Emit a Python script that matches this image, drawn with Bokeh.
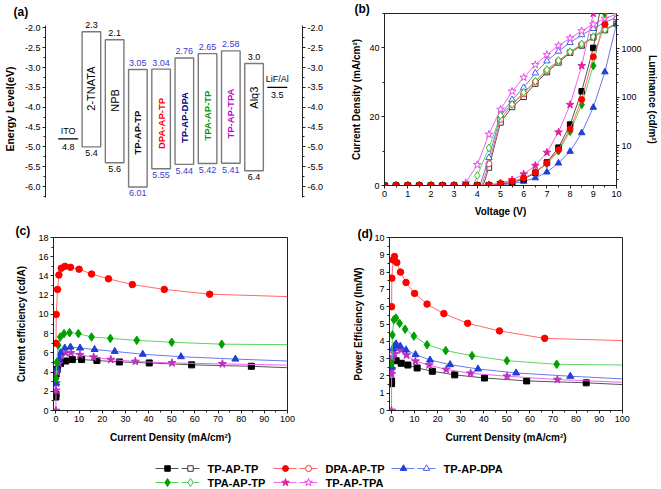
import math
from bokeh.plotting import figure
from bokeh.models import (Range1d, LinearAxis, LogAxis, LogScale, LogTicker,
                          SingleIntervalTicker, NumeralTickFormatter,
                          PrintfTickFormatter, Title)
from bokeh.layouts import column, row
from bokeh.embed import file_html
from bokeh.resources import INLINE
from bokeh.core.properties import value

FONT = "Liberation Sans"

# ---------------- (a) energy levels -----------------
layer_names = ["2-TNATA", "NPB", "TP-AP-TP", "DPA-AP-TP", "TP-AP-DPA",
               "TPA-AP-TP", "TP-AP-TPA", "Alq3"]
layer_lumo = [-2.1, -2.3, -3.05, -3.04, -2.76, -2.65, -2.58, -2.9]
layer_homo = [-5.0, -5.4, -6.01, -5.55, -5.44, -5.42, -5.41, -5.6]
lumo_text = ["2.3", "2.1", "3.05", "3.04", "2.76", "2.65", "2.58", "3.0"]
homo_text = ["5.4", "5.6", "6.01", "5.55", "5.44", "5.42", "5.41", "6.4"]
electrode_names = ["ITO", "LiF/Al"]
electrode_level = [-4.8, -3.5]
electrode_text = ["4.8", "3.5"]

# ---------------- (b) J-V-L -----------------
voltage = [0.0, 0.5, 1.0, 1.5, 2.0, 2.5, 3.0, 3.5, 4.0, 4.5, 5.0,
           5.5, 6.0, 6.5, 7.0, 7.5, 8.0, 8.5, 9.0, 9.5, 10.0]
j_tp_ap_tp = [0, 0, 0, 0, 0, 0, 0, 0, 0, 0.1, 0.4, 0.9, 1.8, 3.7, 6.7,
              11.0, 17.7, 27.4, 40.0, 58.6, 84.4]
j_dpa_ap_tp = [0, 0, 0, 0, 0, 0, 0, 0, 0, 0.1, 0.6, 1.2, 2.2, 3.8, 6.5,
               10.4, 16.4, 25.0, 37.4, 46.8, 66.4]
j_tp_ap_dpa = [0, 0, 0, 0, 0, 0, 0, 0, 0, 0.0, 0.2, 0.5, 1.2, 2.2, 3.9,
               6.5, 9.9, 15.3, 22.7, 33.0, 47.0]
j_tpa_ap_tp = [0, 0, 0, 0, 0, 0, 0, 0, 0, 0.1, 0.4, 1.0, 2.0, 3.8, 6.3,
               10.0, 15.7, 23.5, 34.8, 50.0, 71.6]
j_tp_ap_tpa = [0, 0, 0, 0, 0, 0, 0, 0, 0, 0.2, 0.7, 1.6, 3.3, 5.8, 9.6,
               15.5, 23.5, 34.8, 50.0, 71.9, 100.0]

lum_voltage = [3.5, 4.0, 4.5, 5.0, 5.5, 6.0, 6.5, 7.0, 7.5, 8.0, 8.5,
               9.0, 9.5, 10.0]
lum_tp_ap_tp = [0.15, 0.63, 3.5, 30, 63, 102, 191, 331, 525, 832, 1175,
                1738, 2455, 3311]
lum_dpa_ap_tp = [0.2, 0.8, 4.2, 35, 71, 117, 209, 355, 562, 851, 1230,
                 1778, 2570, 3388]
lum_tp_ap_dpa = [0.2, 1.0, 5.6, 42, 89, 158, 316, 562, 891, 1349, 1950,
                 2630, 3548, 4467]
lum_tpa_ap_tp = [0.6, 2.4, 8.9, 42, 71, 126, 214, 372, 575, 871, 1259,
                 1778, 2512, 3162]
lum_tp_ap_tpa = [1.7, 4.0, 17, 56, 132, 257, 468, 759, 1175, 1660, 2344,
                 3236, 4266, 5248]

# ---------------- (c)/(d) efficiencies -----------------
cd_tp_ap_tp = [0.02, 0.05, 0.15, 0.7, 2.0, 4.2, 7.1, 11.1, 17.7, 27.4,
               40.3, 58.6, 84.4]
ce_tp_ap_tp = [1.4, 1.7, 3.8, 4.3, 4.9, 5.15, 5.3, 5.3, 5.2, 5.05, 4.95,
               4.75, 4.6]
pe_tp_ap_tp = [1.55, 1.7, 2.9, 2.98, 2.88, 2.73, 2.63, 2.46, 2.27, 2.06,
               1.88, 1.71, 1.6]

cd_dpa_ap_tp = [0.05, 0.15, 0.7, 1.3, 2.3, 3.9, 6.3, 10.0, 15.4, 22.7,
                33.0, 46.8, 66.4]
ce_dpa_ap_tp = [7.0, 10.0, 12.6, 14.1, 14.8, 15.0, 14.9, 14.7, 14.2, 13.7,
                13.1, 12.6, 12.1]
pe_dpa_ap_tp = [6.0, 7.65, 8.7, 8.9, 8.55, 8.0, 7.4, 6.77, 6.15, 5.6,
                5.04, 4.6, 4.17]

cd_tp_ap_dpa = [0.15, 0.6, 1.3, 2.0, 3.8, 6.3, 10.4, 16.7, 25.4, 37.5,
                54.0, 77.5]
ce_tp_ap_dpa = [2.85, 4.4, 5.4, 6.0, 6.5, 6.6, 6.5, 6.35, 6.15, 5.85, 5.6,
                5.35]
pe_tp_ap_dpa = [2.5, 3.55, 3.75, 3.85, 3.72, 3.5, 3.23, 2.92, 2.65, 2.4,
                2.17, 1.98]

cd_tpa_ap_tp = [0.1, 0.4, 1.0, 1.9, 3.5, 5.9, 9.7, 15.4, 23.5, 34.9, 50.0,
                71.6]
ce_tpa_ap_tp = [3.3, 5.0, 6.8, 7.65, 8.0, 8.1, 8.0, 7.65, 7.5, 7.3, 7.1,
                6.9]
pe_tpa_ap_tp = [2.7, 4.37, 5.25, 5.35, 5.04, 4.7, 4.3, 3.8, 3.46, 3.17,
                2.88, 2.67]

cd_tp_ap_tpa = [0.0, 0.05, 0.15, 0.43, 1.3, 2.3, 4.2, 6.5, 10.4, 16.3,
                23.7, 34.3, 50.1, 71.9]
ce_tp_ap_tpa = [0.0, 2.1, 2.85, 4.0, 4.9, 5.7, 6.0, 6.0, 5.8, 5.55, 5.3,
                5.1, 4.95, 4.85]
pe_tp_ap_tpa = [0.0, 2.1, 2.4, 3.04, 3.27, 3.6, 3.5, 3.2, 2.85, 2.63, 2.37,
                2.15, 1.98, 1.79]

# value of each fitted curve at 100 mA/cm2
ce_at_100 = [4.45, 11.85, 5.15, 6.85, 4.72]
pe_at_100 = [1.5, 4.04, 1.83, 2.63, 1.63]

series_names = ["TP-AP-TP", "DPA-AP-TP", "TP-AP-DPA", "TPA-AP-TP",
                "TP-AP-TPA"]

# ---------------- styles -----------------
markers = ["square", "circle", "triangle", "diamond", "star"]
msizes = [6, 6.5, 7, 8.5, 8.5]
mcolors = ["#000000", "#ff0000", "#1f3fd8", "#00a000", "#e0209f"]
ocolors = ["#333333", "#ff3030", "#4a5ee8", "#33c033", "#ee44ee"]
lcolors = ["#555555", "#ff6a6a", "#6b7be8", "#5fd35f", "#ee66ee"]
ccolors = ["#000000", "#ff0000", "#1f3fd8", "#00a000", "#c030c0"]
AX = "#222222"


def style_axis(ax, label_standoff):
    ax.axis_line_color = AX
    ax.major_tick_line_color = AX
    ax.minor_tick_line_color = AX
    ax.major_tick_out = 3
    ax.major_tick_in = 0
    ax.minor_tick_out = 2
    ax.minor_tick_in = 0
    ax.major_label_standoff = 2
    ax.major_label_text_font = FONT
    ax.major_label_text_font_size = "9px"
    ax.major_label_text_color = "#000000"
    ax.axis_label_text_font = FONT
    ax.axis_label_text_font_size = "10px"
    ax.axis_label_text_font_style = "bold"
    ax.axis_label_text_color = "#000000"
    ax.axis_label_standoff = label_standoff


def base_fig(w, h, xr, yr, bl, br, bt, bb, xloc="below", yloc="left"):
    p = figure(width=w, height=h, x_range=xr, y_range=yr,
               output_backend="svg", toolbar_location=None, title=None,
               x_axis_location=xloc, y_axis_location=yloc,
               min_border_left=bl, min_border_right=br,
               min_border_top=bt, min_border_bottom=bb)
    p.xgrid.grid_line_color = None
    p.ygrid.grid_line_color = None
    p.background_fill_color = "white"
    p.border_fill_color = "white"
    return p


def panel_title(p, text, offset, standoff, size="12px"):
    p.add_layout(Title(text=text, align="left", offset=offset,
                       standoff=standoff, text_font=FONT,
                       text_font_size=size, text_font_style="bold",
                       text_color="#000000"), "above")


# ================= panel (a) =================
pa = base_fig(330, 220, Range1d(-0.975, 10.085), Range1d(-6.30, -1.79),
              41, 28, 19, 22, xloc=None, yloc="left")
pa.outline_line_color = None
pa.yaxis.ticker = SingleIntervalTicker(interval=0.5, num_minor_ticks=2)
pa.yaxis.formatter = NumeralTickFormatter(format="0.0")
pa.yaxis.axis_label = "Energy Level(eV)"
pa.yaxis.bounds = (-6.27, -1.94)
style_axis(pa.yaxis[0], 6)
pa.yaxis.axis_label_text_font_size = "10.5px"
ra = LinearAxis(ticker=SingleIntervalTicker(interval=0.5, num_minor_ticks=2),
                formatter=NumeralTickFormatter(format="0.0"),
                bounds=(-6.27, -1.94))
style_axis(ra, 2)
pa.add_layout(ra, "right")
panel_title(pa, "(a)", -32, 2)

slots = [i + 1 for i in range(len(layer_names))]
e_slots = [0, len(layer_names) + 1]
bw = 0.4
pa.quad(left=[s - bw for s in slots], right=[s + bw for s in slots],
        top=layer_lumo, bottom=layer_homo, fill_color="white",
        line_color="#7a7a7a", line_width=1.4)
pa.segment(x0=[s - 0.43 for s in e_slots], x1=[s + 0.43 for s in e_slots],
           y0=electrode_level, y1=electrode_level, line_color="#000000",
           line_width=1.2)

num_colors = ["#000000", "#000000", "#3b3bd0", "#3b3bd0", "#3b3bd0",
              "#3b3bd0", "#3b3bd0", "#000000"]
pa.text(x=slots, y=layer_lumo, text=lumo_text, y_offset=-6.5,
        text_color=num_colors, text_font=value(FONT), text_font_size="9px",
        text_align="center", text_baseline="middle")
pa.text(x=slots, y=layer_homo, text=homo_text, y_offset=6.5,
        text_color=num_colors, text_font=value(FONT), text_font_size="9px",
        text_align="center", text_baseline="middle")
pa.text(x=e_slots, y=electrode_level, text=electrode_names, y_offset=-8,
        text_color="#000000", text_font=value(FONT), text_font_size="9px",
        text_align="center", text_baseline="middle")
pa.text(x=e_slots, y=electrode_level, text=electrode_text, y_offset=8,
        text_color="#000000", text_font=value(FONT), text_font_size="9px",
        text_align="center", text_baseline="middle")

name_y = [-3.53, -3.83, -4.64, -4.41, -4.26, -4.21, -4.16, -3.76]
name_colors = ["#000000", "#000000", "#000000", "#ff0000", "#000080",
               "#009900", "#cc00cc", "#000000"]
name_bold = [False, False, True, True, True, True, True, False]
for bold in (False, True):
    idx = [i for i in range(len(layer_names)) if name_bold[i] == bold]
    pa.text(x=[slots[i] for i in idx], y=[name_y[i] for i in idx],
            text=[layer_names[i] for i in idx],
            text_color=[name_colors[i] for i in idx], angle=math.pi / 2,
            text_font=value(FONT),
            text_font_size="9.5px" if bold else "11px",
            text_font_style="bold" if bold else "normal",
            text_align="center", text_baseline="middle")

# ================= panel (b) =================
pb = base_fig(330, 220, Range1d(0, 10), Range1d(0, 50), 54, 42, 13, 35)
pb.outline_line_color = AX
pb.outline_line_width = 1
pb.xaxis.ticker = SingleIntervalTicker(interval=1, num_minor_ticks=2)
pb.yaxis.ticker = SingleIntervalTicker(interval=20, num_minor_ticks=2)
pb.xaxis.axis_label = "Voltage (V)"
pb.yaxis.axis_label = "Current Density (mA/cm²)"
style_axis(pb.xaxis[0], 6)
style_axis(pb.yaxis[0], 4)
pb.extra_y_ranges = {"lum": Range1d(1.49, 5400)}
pb.extra_y_scales = {"lum": LogScale()}
lax = LogAxis(y_range_name="lum", ticker=LogTicker(num_minor_ticks=10),
              formatter=PrintfTickFormatter(format="%d"),
              axis_label="Luminance (cd/m²)")
style_axis(lax, 2)
pb.add_layout(lax, "right")
panel_title(pb, "(b)", -30, -4)

j_series = [j_tp_ap_tp, j_dpa_ap_tp, j_tp_ap_dpa, j_tpa_ap_tp, j_tp_ap_tpa]
l_series = [lum_tp_ap_tp, lum_dpa_ap_tp, lum_tp_ap_dpa, lum_tpa_ap_tp,
            lum_tp_ap_tpa]
for k in range(5):
    pb.line(lum_voltage, l_series[k], y_range_name="lum",
            line_color=lcolors[k], line_width=1)
    pb.scatter(lum_voltage, l_series[k], y_range_name="lum",
               marker=markers[k], size=msizes[k] - 0.5, fill_color="white",
               line_color=ocolors[k], line_width=1)
for k in [2, 4, 3, 0, 1]:
    pb.line(voltage, j_series[k], line_color=lcolors[k], line_width=1)
    pb.scatter(voltage, j_series[k], marker=markers[k], size=msizes[k] - 0.5,
               fill_color=mcolors[k], line_color=mcolors[k])

# ================= panels (c), (d) =================
cd_series = [cd_tp_ap_tp, cd_dpa_ap_tp, cd_tp_ap_dpa, cd_tpa_ap_tp,
             cd_tp_ap_tpa]
ce_series = [ce_tp_ap_tp, ce_dpa_ap_tp, ce_tp_ap_dpa, ce_tpa_ap_tp,
             ce_tp_ap_tpa]
pe_series = [pe_tp_ap_tp, pe_dpa_ap_tp, pe_tp_ap_dpa, pe_tpa_ap_tp,
             pe_tp_ap_tpa]


def eff_panel(w, xr, yr, bl, br, ylabel, yint, ys, yends, ystand):
    p = base_fig(w, 232, xr, yr, bl, br, 17, 42)
    p.outline_line_color = AX
    p.outline_line_width = 1
    p.xaxis.ticker = SingleIntervalTicker(interval=10, num_minor_ticks=2)
    p.yaxis.ticker = SingleIntervalTicker(interval=yint, num_minor_ticks=2)
    p.xaxis.axis_label = "Current Density (mA/cm²)"
    p.yaxis.axis_label = ylabel
    style_axis(p.xaxis[0], 7)
    style_axis(p.yaxis[0], ystand)
    for k in [0, 4, 2, 3, 1]:
        p.line(cd_series[k] + [100.0], ys[k] + [yends[k]],
               line_color=lcolors[k], line_width=1)
        p.scatter(cd_series[k], ys[k], marker=markers[k], size=msizes[k],
                  fill_color=ccolors[k], line_color=ccolors[k])
    return p


pc = eff_panel(330, Range1d(-1.04, 100), Range1d(0, 18), 53, 43,
               "Current efficiency (cd/A)", 2, ce_series, ce_at_100, 8)
panel_title(pc, "(c)", -38, 0)
pd = eff_panel(330, Range1d(-0.87, 100.13), Range1d(0, 10), 59, 38,
               "Power Efficiency (lm/W)", 1, pe_series, pe_at_100, 7)
panel_title(pd, "(d)", -32, -7)

# ================= legend =================
pl = figure(width=660, height=36, x_range=Range1d(0, 660),
            y_range=Range1d(36, 0), output_backend="svg",
            toolbar_location=None, title=None, x_axis_location=None,
            y_axis_location=None, min_border=0)
pl.outline_line_color = None
pl.xgrid.grid_line_color = None
pl.ygrid.grid_line_color = None
entry_x = [155, 273, 391, 155, 273]
entry_y = [16, 16, 16, 30, 30]
for k in range(5):
    x0, y0 = entry_x[k], entry_y[k]
    pl.segment(x0=[x0, x0 + 26], x1=[x0 + 23, x0 + 44], y0=[y0, y0],
               y1=[y0, y0], line_color=lcolors[k], line_width=1.2)
    pl.scatter([x0 + 12], [y0], marker=markers[k], size=msizes[k] - 0.5,
               fill_color=mcolors[k], line_color=mcolors[k])
    pl.scatter([x0 + 35], [y0], marker=markers[k], size=msizes[k] - 0.5,
               fill_color="white", line_color=ocolors[k])
    pl.text(x=[x0 + 52], y=[y0], text=[series_names[k]],
            text_font=value(FONT), text_font_size="11px",
            text_font_style="bold", text_color="#000000",
            text_baseline="middle", text_align="left")

layout = column(row(column(pa), column(pb)), row(column(pc), column(pd)), pl)
open("out.html", "w").write(file_html(layout, INLINE))
